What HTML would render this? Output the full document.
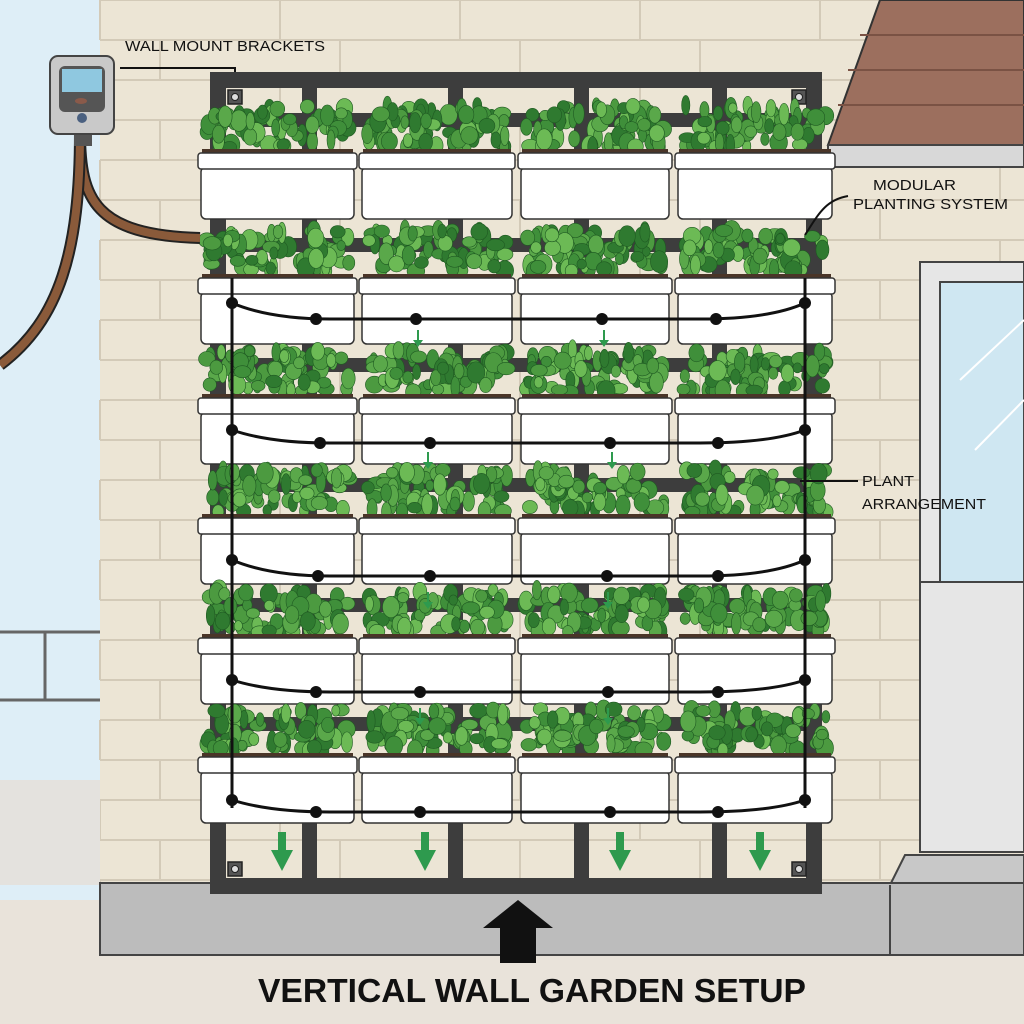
<!DOCTYPE html>
<html><head><meta charset="utf-8"><style>body{margin:0;background:#e9e3da}svg{display:block}</style></head>
<body>
<svg id="s" width="1024" height="1024" viewBox="0 0 1024 1024" xmlns="http://www.w3.org/2000/svg" font-family="Liberation Sans, sans-serif">
<rect width="1024" height="1024" fill="#e9e3da"/>
<rect x="0" y="0" width="100" height="900" fill="#deeef7"/>
<rect x="100" y="0" width="924" height="885" fill="#ece5d5"/>
<g id="bricks" stroke="#d3cab8" stroke-width="2"></g>
<polygon points="880,0 1024,0 1024,145 828,145" fill="#9c6f5e" stroke="#333" stroke-width="2"/>
<g stroke="#7a5244" stroke-width="2"><line x1="860" y1="35" x2="1024" y2="35"/><line x1="848" y1="70" x2="1024" y2="70"/><line x1="838" y1="105" x2="1024" y2="105"/></g>
<rect x="828" y="145" width="196" height="22" fill="#d8d8d8" stroke="#444" stroke-width="2"/>
<rect x="920" y="262" width="104" height="590" fill="#e6e6e6" stroke="#444" stroke-width="2"/>
<rect x="940" y="282" width="84" height="300" fill="#cfe7f2" stroke="#444" stroke-width="2"/>
<line x1="960" y1="380" x2="1024" y2="320" stroke="#fff" stroke-width="2"/><line x1="975" y1="450" x2="1024" y2="400" stroke="#fff" stroke-width="2"/>
<rect x="920" y="582" width="104" height="270" fill="#e6e6e6" stroke="#444" stroke-width="2"/>
<polygon points="905,855 1024,855 1024,885 890,885" fill="#c8c8c8" stroke="#444" stroke-width="2"/>
<g stroke="#666" stroke-width="3" fill="none"><line x1="0" y1="632" x2="100" y2="632"/><line x1="0" y1="700" x2="100" y2="700"/><line x1="45" y1="632" x2="45" y2="700"/></g>
<rect x="0" y="780" width="100" height="105" fill="#e4e2de"/>
<rect x="100" y="883" width="924" height="72" fill="#bcbcbc" stroke="#444" stroke-width="2"/>
<line x1="890" y1="885" x2="890" y2="955" stroke="#444" stroke-width="2"/>
<g fill="#3d3d3d">
<rect x="210" y="72" width="612" height="16"/>
<rect x="210" y="878" width="612" height="16"/>
<rect x="210" y="72" width="16" height="822"/>
<rect x="806" y="72" width="16" height="822"/>
<rect x="302" y="88" width="15" height="790"/>
<rect x="448" y="88" width="15" height="790"/>
<rect x="574" y="88" width="15" height="790"/>
<rect x="712" y="88" width="15" height="790"/>
</g>
<g id="brk"></g>
<g id="rows"></g>
<g id="drip" stroke="#111" stroke-width="3" fill="none"></g>
<path d="M80 132 C80 200 95 235 200 238" stroke="#222" stroke-width="12" fill="none"/>
<path d="M80 132 C80 200 95 235 200 238" stroke="#8a5a3a" stroke-width="8" fill="none"/>
<path d="M80 132 C80 250 60 320 0 365" stroke="#222" stroke-width="12" fill="none"/>
<path d="M80 132 C80 250 60 320 0 365" stroke="#8a5a3a" stroke-width="8" fill="none"/>
<rect x="74" y="132" width="18" height="14" fill="#555"/>
<rect x="50" y="56" width="64" height="78" rx="8" fill="#c9c9c9" stroke="#444" stroke-width="2"/>
<rect x="59" y="66" width="46" height="46" rx="6" fill="#555"/>
<rect x="62" y="69" width="40" height="23" fill="#8fc8e0"/>
<ellipse cx="81" cy="101" rx="6" ry="3" fill="#8a5a4a"/>
<circle cx="82" cy="118" r="5" fill="#4a6080"/>
<text x="125" y="51" font-size="15" fill="#111" textLength="200" lengthAdjust="spacingAndGlyphs">WALL MOUNT BRACKETS</text>
<polyline points="120,68 235,68 235,72" stroke="#111" stroke-width="2" fill="none"/>
<text x="873" y="190" font-size="15" fill="#111" textLength="83" lengthAdjust="spacingAndGlyphs">MODULAR</text>
<text x="853" y="209" font-size="15" fill="#111" textLength="155" lengthAdjust="spacingAndGlyphs">PLANTING SYSTEM</text>
<path d="M848 196 C825 200 818 215 805 235" stroke="#111" stroke-width="2" fill="none"/>
<text x="862" y="486" font-size="15" fill="#111" textLength="52" lengthAdjust="spacingAndGlyphs">PLANT</text>
<text x="862" y="509" font-size="15" fill="#111" textLength="124" lengthAdjust="spacingAndGlyphs">ARRANGEMENT</text>
<line x1="800" y1="481" x2="858" y2="481" stroke="#111" stroke-width="2"/>
<polygon points="518,900 553,928 536,928 536,963 500,963 500,928 483,928" fill="#111"/>
<text x="258" y="1002" font-size="33" font-weight="bold" fill="#111" textLength="548" lengthAdjust="spacingAndGlyphs">VERTICAL WALL GARDEN SETUP</text>
</svg>
<script>
const NS="http://www.w3.org/2000/svg";
function el(p,t,a){const e=document.createElementNS(NS,t);for(const k in a)e.setAttribute(k,a[k]);p.appendChild(e);return e;}
const b=document.getElementById('bricks');
for(let y=0,i=0;y<885;y+=40,i++){el(b,'line',{x1:100,y1:y,x2:1024,y2:y});
 for(let x=100+(i%2?60:0);x<1024;x+=180)el(b,'line',{x1:x,y1:y,x2:x,y2:y+40});}
const bk=document.getElementById('brk');
[[228,90],[792,90],[228,862],[792,862]].forEach(([x,y])=>{el(bk,'rect',{x:x,y:y,width:14,height:14,fill:'#555',stroke:'#222','stroke-width':1.5});el(bk,'circle',{cx:x+7,cy:y+7,r:3.5,fill:'#ddd',stroke:'#222','stroke-width':1});});
const rows=document.getElementById('rows');
const tops=[153,278,398,518,638,757];
const cols=[[198,357],[359,515],[518,672],[675,835]];
let seed=7;function r(){seed=(seed*9301+49297)%233280;return seed/233280;}
const greens=['#3f8f3a','#5aa84a','#2f7a30','#6cba55','#4c9a40'];
tops.forEach((t,ri)=>{
 el(rows,'rect',{x:226,y:t-40,width:580,height:14,fill:'#3d3d3d'});
 cols.forEach(c=>{
  for(let k=0;k<70;k++){const x=c[0]+8+r()*(c[1]-c[0]-16);const y=t-6-r()*42;
   el(rows,'ellipse',{cx:x,cy:y,rx:4+r()*5,ry:5+r()*6,fill:greens[Math.floor(r()*5)],stroke:'#1f5a22','stroke-width':0.6});}
  el(rows,'rect',{x:c[0]+4,y:t-4,width:c[1]-c[0]-8,height:6,fill:'#4a3528'});
  el(rows,'rect',{x:c[0]+3,y:t+14,width:c[1]-c[0]-6,height:52,rx:5,fill:'#fff',stroke:'#333','stroke-width':1.5});
  el(rows,'rect',{x:c[0],y:t,width:c[1]-c[0],height:16,rx:3,fill:'#fff',stroke:'#333','stroke-width':1.5});
 });
});
const d=document.getElementById('drip');
el(d,'line',{x1:232,y1:278,x2:232,y2:808});
el(d,'line',{x1:805,y1:278,x2:805,y2:808});
const dl=[[303,319,[316,416,602,716]],[430,443,[320,430,610,718]],[560,576,[318,430,607,718]],[680,692,[316,420,608,718]],[800,812,[316,420,610,718]]];
dl.forEach(([a,bb,xs])=>{
 el(d,'path',{d:`M232 ${a} Q270 ${bb} 330 ${bb} L700 ${bb} Q770 ${bb} 805 ${a}`});
 el(d,'circle',{cx:232,cy:a,r:4.5,fill:'#111'});el(d,'circle',{cx:805,cy:a,r:4.5,fill:'#111'});
 xs.forEach(x=>el(d,'circle',{cx:x,cy:bb,r:4.5,fill:'#111'}));
});
const gar=document.getElementById('s');
[[418,330],[604,330],[428,452],[612,452],[428,592],[608,592],[420,708],[608,708]].forEach(([x,y])=>{
 el(gar,'line',{x1:x,y1:y,x2:x,y2:y+12,stroke:'#2e9a4e','stroke-width':2});
 el(gar,'polygon',{points:`${x-5},${y+10} ${x+5},${y+10} ${x},${y+17}`,fill:'#2e9a4e'});});
[282,425,620,760].forEach(x=>{el(gar,'rect',{x:x-4,y:832,width:8,height:20,fill:'#2e9a4e'});
 el(gar,'polygon',{points:`${x-11},${850} ${x+11},${850} ${x},${871}`,fill:'#2e9a4e'});});
</script>
</body></html>
